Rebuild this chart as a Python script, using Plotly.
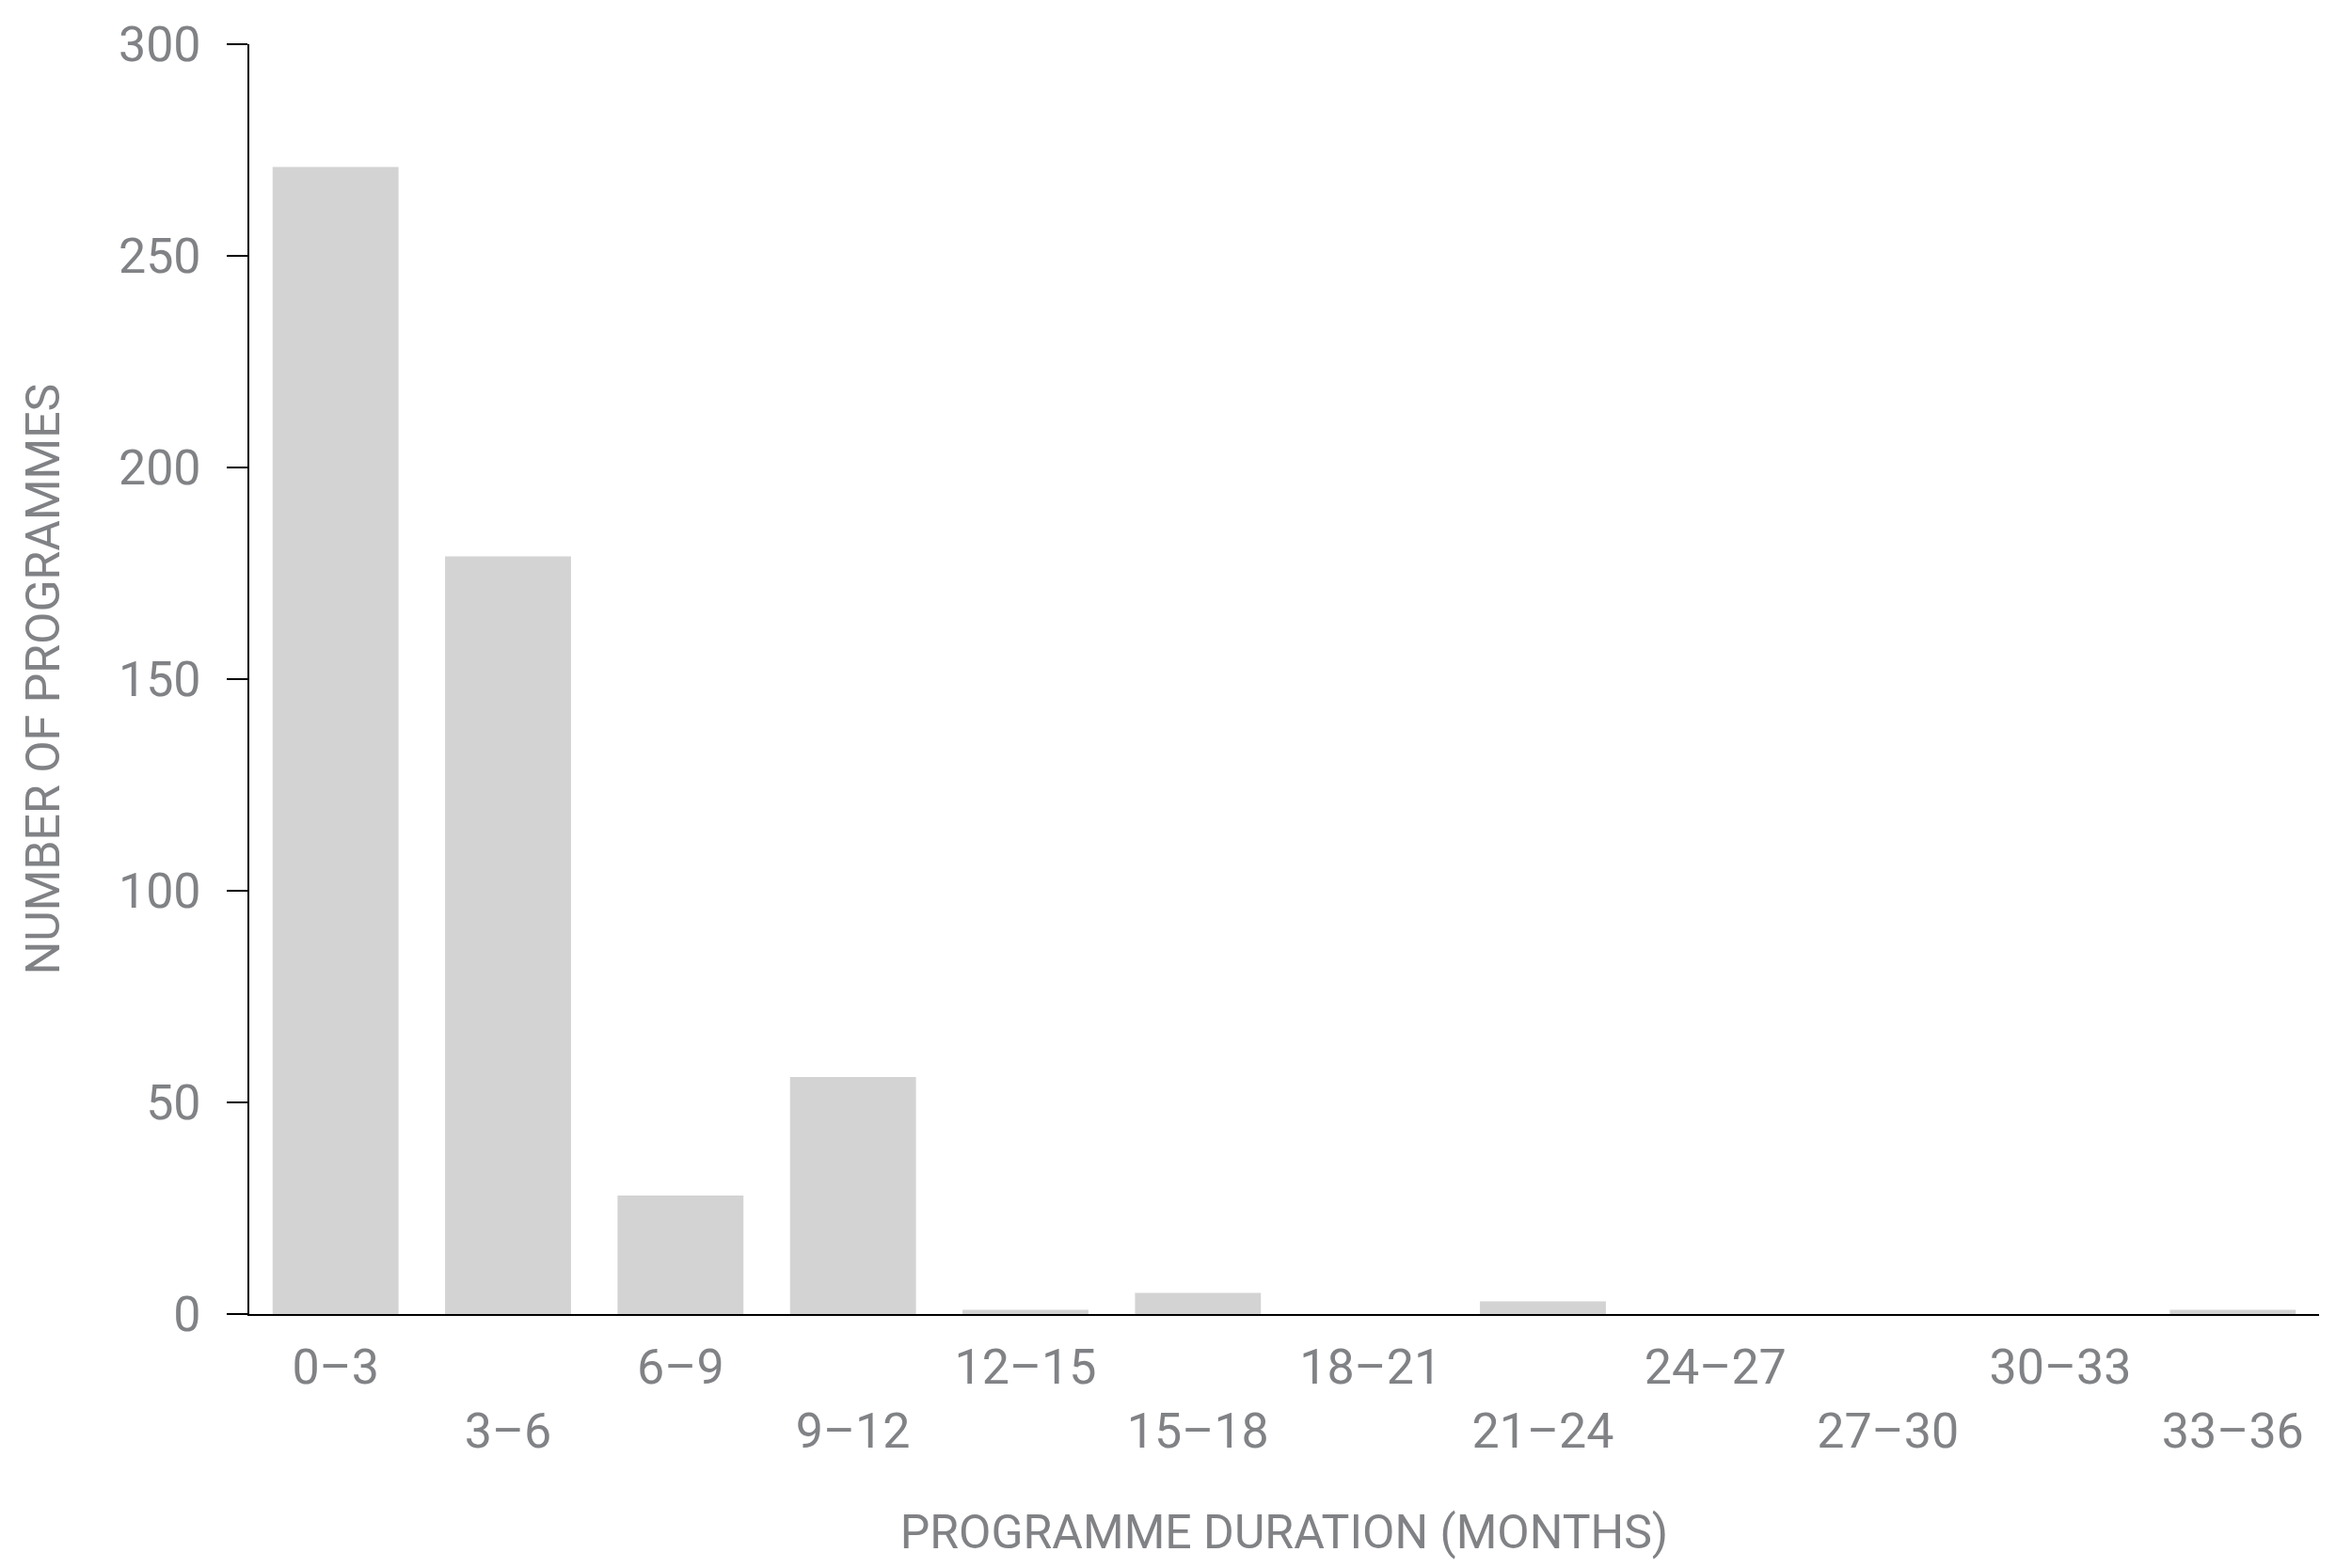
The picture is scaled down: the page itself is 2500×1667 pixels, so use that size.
import plotly.graph_objects as go

# programme duration bins (months) and number of programmes in each
duration_bins = ["0–3", "3–6", "6–9", "9–12", "12–15", "15–18",
                 "18–21", "21–24", "24–27", "27–30", "30–33", "33–36"]
programme_counts = [271, 179, 28, 56, 1, 5, 0, 3, 0, 0, 0, 1]
y_ticks = [0, 50, 100, 150, 200, 250, 300]

TEXT_GREY = "#808285"
BAR_GREY = "#d3d3d3"
FONT = "Roboto"
FONT_SIZE = 52
TITLE_SIZE = 50

# stagger the x labels over two rows like the original
tick_text = [label if i % 2 == 0 else " <br>" + label for i, label in enumerate(duration_bins)]

fig = go.Figure(
    go.Bar(
        x=list(range(len(duration_bins))),
        y=programme_counts,
        marker=dict(color=BAR_GREY, line=dict(width=0)),
        showlegend=False,
    )
)

# the page body adds an 8px margin, so the figure is a little smaller than the window
fig.update_layout(
    width=2492,
    height=1659,
    paper_bgcolor="white",
    plot_bgcolor="white",
    margin=dict(l=257, r=35, t=39, b=270, autoexpand=False),
    bargap=0.27,
    font=dict(family=FONT, size=FONT_SIZE, color=TEXT_GREY),
    xaxis=dict(
        range=[-0.5, len(duration_bins) - 0.5],
        tickmode="array",
        tickvals=list(range(len(duration_bins))),
        ticktext=tick_text,
        ticks="",
        showgrid=False,
        zeroline=False,
        showline=True,
        linecolor="black",
        linewidth=2,
        ticklabelstandoff=10,
        title=dict(text="PROGRAMME DURATION (MONTHS)", standoff=60,
                   font=dict(family=FONT, size=TITLE_SIZE, color=TEXT_GREY)),
    ),
    yaxis=dict(
        range=[0, 300],
        tickmode="array",
        tickvals=y_ticks,
        ticks="outside",
        ticklen=22,
        tickwidth=2,
        tickcolor="black",
        showgrid=False,
        zeroline=False,
        showline=True,
        linecolor="black",
        linewidth=2,
        ticklabelstandoff=17,
        title=dict(text="NUMBER OF PROGRAMMES", standoff=46,
                   font=dict(family=FONT, size=TITLE_SIZE, color=TEXT_GREY)),
    ),
)

fig.write_html("out.html")
